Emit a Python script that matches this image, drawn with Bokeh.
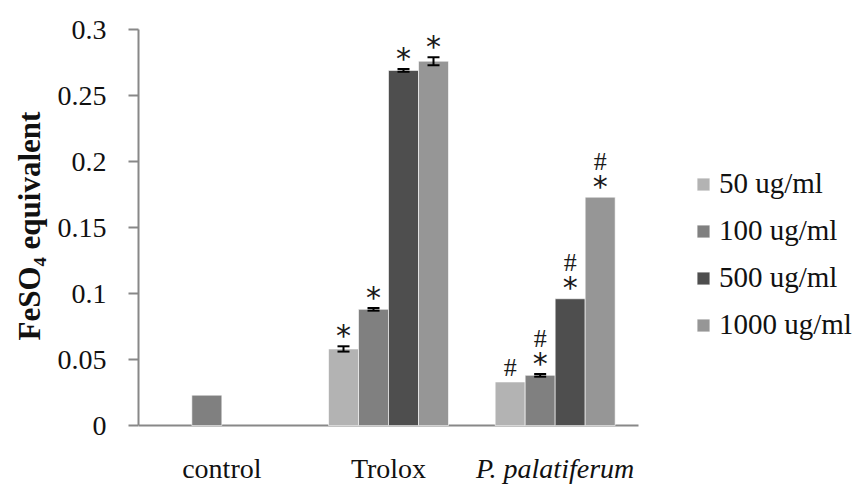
from bokeh.plotting import figure
from bokeh.models import (ColumnDataSource, Range1d, FixedTicker, Legend, LegendItem,
                          Whisker, TeeHead, Title)
from bokeh.core.properties import value
from bokeh.embed import file_html
from bokeh.resources import INLINE

# ---------------- data ----------------
categories = ["control", "Trolox", "P. palatiferum"]
category_styles = ["normal", "normal", "italic"]
series = ["50 ug/ml", "100 ug/ml", "500 ug/ml", "1000 ug/ml"]
colors = ["#b3b3b3", "#808080", "#4e4e4e", "#969696"]

v50 = [None, 0.058, 0.033]
v100 = [0.023, 0.088, 0.038]
v500 = [None, 0.269, 0.096]
v1000 = [None, 0.276, 0.173]

e50 = [0, 0.002, 0]
e100 = [0, 0.001, 0.001]
e500 = [0, 0.001, 0]
e1000 = [0, 0.003, 0]

star50 = [False, True, False]
star100 = [False, True, True]
star500 = [False, True, True]
star1000 = [False, True, True]

hash50 = [False, False, True]
hash100 = [False, False, True]
hash500 = [False, False, True]
hash1000 = [False, False, True]

yticks = [0, 0.05, 0.1, 0.15, 0.2, 0.25, 0.3]
ytick_labels = ["0", "0.05", "0.1", "0.15", "0.2", "0.25", "0.3"]
y_title = "FeSO₄ equivalent"

values = [v50, v100, v500, v1000]
errors = [e50, e100, e500, e1000]
stars = [star50, star100, star500, star1000]
hashes = [hash50, hash100, hash500, hash1000]

# ---------------- layout ----------------
SERIF = "Liberation Serif"
BAR_W = 0.18
W, H = 858, 484
LEFT, TOP = 138, 29
ZERO_PX = 425            # pixel row of y = 0
CAT_PX = 500             # pixel width of the three category slots
YMAX = yticks[-1]
y_start = -YMAX * (H - ZERO_PX) / (ZERO_PX - TOP)
x_end = len(categories) * (W - LEFT) / CAT_PX

p = figure(width=W, height=H, x_range=Range1d(0, x_end), y_range=Range1d(y_start, YMAX),
           output_backend="svg", toolbar_location=None, x_axis_location=None,
           min_border_left=LEFT, min_border_right=0, min_border_top=TOP, min_border_bottom=0)
p.outline_line_color = None
p.xgrid.visible = False
p.ygrid.visible = False
p.background_fill_color = "white"

# x axis line along y = 0 over the category slots
p.segment(x0=[0], y0=[0], x1=[len(categories)], y1=[0], line_color="#888888", line_width=2)

legend_items = []
wx, wu, wl = [], [], []
sx, sy = [], []
hx, hy, hoff = [], [], []
for j, name in enumerate(series):
    xs, tops = [], []
    for i, cat in enumerate(categories):
        v = values[j][i]
        x = i + 0.5 + (j - 1.5) * BAR_W
        xs.append(x)
        tops.append(float("nan") if v is None else v)
        if v is None:
            continue
        e = errors[j][i]
        if e > 0:
            wx.append(x); wu.append(v + e); wl.append(v - e)
        top = v + e
        if stars[j][i]:
            sx.append(x); sy.append(top)
        if hashes[j][i]:
            hx.append(x); hy.append(top)
            hoff.append(-36 if stars[j][i] else -14)
    src = ColumnDataSource(dict(x=xs, top=tops))
    r = p.vbar(x="x", top="top", bottom=0, width=BAR_W, source=src,
               fill_color=colors[j], line_color="white", line_alpha=0.6, line_width=1)
    legend_items.append(LegendItem(label=name, renderers=[r]))

wsrc = ColumnDataSource(dict(x=wx, upper=wu, lower=wl))
whisk = Whisker(base="x", upper="upper", lower="lower", source=wsrc, dimension="height",
                line_color="black", line_width=2, level="overlay",
                upper_head=TeeHead(size=12, line_color="black", line_width=2),
                lower_head=TeeHead(size=12, line_color="black", line_width=2))
p.add_layout(whisk)

ssrc = ColumnDataSource(dict(x=sx, y=sy))
p.text(x="x", y="y", text=value("*"), source=ssrc, text_align="center",
       text_baseline="alphabetic", y_offset=-11, text_font=value("DejaVu Sans"),
       text_font_size="30px", text_color="#1a1a1a")
hsrc = ColumnDataSource(dict(x=hx, y=hy, off=hoff))
p.text(x="x", y="y", text=value("#"), source=hsrc, text_align="center",
       text_baseline="alphabetic", y_offset="off", text_font=value(SERIF),
       text_font_size="26px", text_color="#1a1a1a")

# category labels under the x axis line
csrc = ColumnDataSource(dict(x=[i + 0.5 for i in range(len(categories))], y=[0] * len(categories),
                             text=categories, style=category_styles))
p.text(x="x", y="y", text="text", source=csrc, text_align="center", text_baseline="alphabetic",
       y_offset=43, text_font=value(SERIF), text_font_size="28px",
       text_font_style="style", text_color="#111111")

# y axis
ya = p.yaxis[0]
ya.bounds = (0, YMAX)
ya.ticker = FixedTicker(ticks=yticks)
ya.major_label_overrides = {t: l for t, l in zip(yticks, ytick_labels)}
ya.axis_line_color = "#888888"
ya.axis_line_width = 2
ya.major_tick_line_color = "#888888"
ya.major_tick_line_width = 2
ya.major_tick_out = 10
ya.major_tick_in = 0
ya.minor_tick_line_color = None
ya.major_label_text_font = SERIF
ya.major_label_text_font_size = "28px"
ya.major_label_text_color = "#111111"
ya.major_label_standoff = 22

# y title centred on the 0 - 0.3 span of the axis
p.add_layout(Title(text=y_title, align="left", offset=144, standoff=16,
                   text_font=SERIF, text_font_style="bold", text_font_size="31px",
                   text_color="#111111"), "left")

legend = Legend(items=legend_items, location=(557, 143), orientation="vertical",
                glyph_width=16, glyph_height=16, label_standoff=8, spacing=14, label_height=33,
                padding=0, margin=0, border_line_color=None, background_fill_alpha=0,
                label_text_font=SERIF, label_text_font_size="29px", label_text_color="#111111")
p.add_layout(legend)

open("out.html", "w").write(file_html(p, INLINE))
